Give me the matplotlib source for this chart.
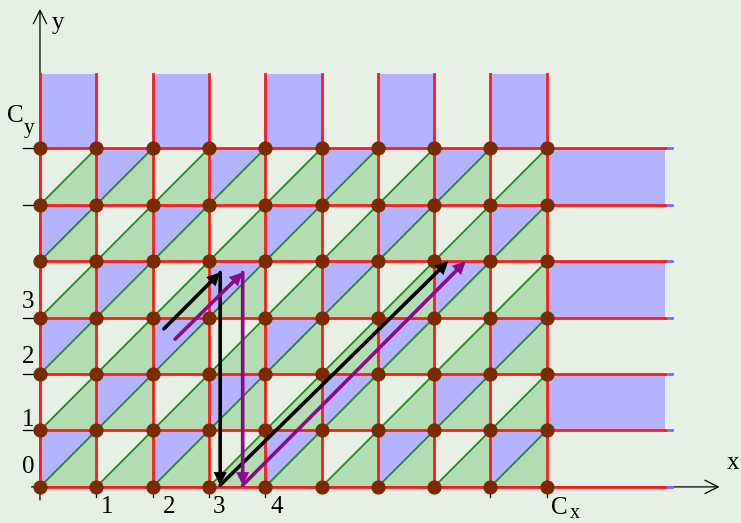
import matplotlib
matplotlib.use("Agg")
import matplotlib.pyplot as plt
from matplotlib.patches import Polygon, Rectangle, FancyArrowPatch

plt.rcParams['font.family'] = ['Liberation Serif', 'DejaVu Serif']

# -----------------------------
# data
# -----------------------------
nx = 9          # C_x
ny = 6          # C_y
top_height = 7.31
right_end = 11.1
top_blue_cols = [0, 2, 4, 6, 8]      # blue column starts above C_y
right_blue_rows = [5, 3, 1]          # blue row starts right of C_x

x_tick_pos = [1, 2, 3, 4, 8, 9]
x_label_pos = [1.19, 2.3, 3.18, 4.2]
x_label_text = ['1', '2', '3', '4']
y_tick_pos = [1, 2, 3, 5, 6]
y_label_pos = [0.35, 1.19, 2.3, 3.27]
y_label_text = ['0', '1', '2', '3']

black_path_x = [2.2, 3.2, 3.2, 7.25]
black_path_y = [2.8, 3.8, 0.03, 4.0]
purple_path_x = [2.4, 3.6, 3.6, 7.56]
purple_path_y = [2.62, 3.8, 0.03, 4.0]

bg = '#e6f0e4'
blue = '#b3b3ff'
green_fill = '#b3dcb3'
green_line = '#1e8c1e'
red = '#ff1a1a'
brown = '#7a2c00'
purple = '#8b0a8b'

fig = plt.figure(figsize=(7.41, 5.23), dpi=100)
fig.patch.set_facecolor(bg)
ax = fig.add_axes([0, 0, 1, 1])
ax.set_facecolor(bg)
ax.set_xlim(-0.71, 12.45)
ax.set_ylim(-0.64, 8.63)
ax.axis('off')

# -----------------------------
# filled cells
# -----------------------------
for i in range(nx):
    for j in range(ny):
        ax.add_patch(Polygon([(i, j), (i + 1, j), (i + 1, j + 1)], closed=True,
                             facecolor=green_fill, edgecolor='none', zorder=1))
        if (i + j) % 2 == 0:
            ax.add_patch(Polygon([(i, j), (i, j + 1), (i + 1, j + 1)], closed=True,
                                 facecolor=blue, edgecolor='none', zorder=1))
        ax.plot([i, i + 1], [j, j + 1], color=green_line, lw=1.3, zorder=2)

for c in top_blue_cols:
    ax.add_patch(Rectangle((c, ny), 1, top_height - ny, facecolor=blue,
                           edgecolor='none', zorder=1))
for r in right_blue_rows:
    ax.add_patch(Rectangle((nx, r), right_end - nx, 1, facecolor=blue,
                           edgecolor='none', zorder=1))

# -----------------------------
# axes with arrows
# -----------------------------
ax.add_patch(FancyArrowPatch((-0.2, 0), (12.12, 0), arrowstyle='->', mutation_scale=24,
                             color='black', lw=0.9, zorder=2))
ax.add_patch(FancyArrowPatch((0, -0.28), (0, 8.52), arrowstyle='->', mutation_scale=24,
                             color='black', lw=0.9, zorder=2))

# red grid
for j in range(ny + 1):
    ax.plot([right_end, right_end + 0.12], [j, j], color='#6f6fff', lw=2, zorder=2)
    ax.plot([0, right_end], [j, j], color=red, lw=2, zorder=3)
for i in range(nx + 1):
    ax.plot([i, i], [0, top_height], color=red, lw=2, zorder=3)

# ticks
for p in x_tick_pos:
    ax.plot([p, p], [0, -0.18], color='black', lw=0.9, zorder=2)
for p in y_tick_pos:
    ax.plot([-0.3, 0], [p, p], color='black', lw=0.9, zorder=2)

# labels
fs = 18
for p, lab in zip(x_label_pos, x_label_text):
    ax.text(p, -0.36, lab, fontsize=fs, ha='center', va='center')
for p, lab in zip(y_label_pos, y_label_text):
    ax.text(-0.21, p, lab, fontsize=fs, ha='center', va='center')
ax.text(-0.44, 6.58, 'C', fontsize=fs, ha='center', va='center')
ax.text(-0.2, 6.36, 'y', fontsize=fs * 0.85, ha='center', va='center')
ax.text(9.23, -0.37, 'C', fontsize=fs, ha='center', va='center')
ax.text(9.5, -0.48, 'x', fontsize=fs * 0.8, ha='center', va='center')
ax.text(0.32, 8.23, 'y', fontsize=fs, ha='center', va='center')
ax.text(12.3, 0.42, 'x', fontsize=fs, ha='center', va='center')

# -----------------------------
# path arrows
# -----------------------------
def draw_path(xs, ys, color):
    for k in range(len(xs) - 1):
        ax.add_patch(FancyArrowPatch((xs[k], ys[k]), (xs[k + 1], ys[k + 1]),
                                     arrowstyle='-|>', mutation_scale=13,
                                     color=color, lw=2.6, shrinkA=0, shrinkB=0,
                                     joinstyle='miter', zorder=6))

draw_path(black_path_x, black_path_y, 'black')
draw_path(purple_path_x, purple_path_y, purple)

# grid points
gx = [i for i in range(nx + 1) for j in range(ny + 1)]
gy = [j for i in range(nx + 1) for j in range(ny + 1)]
ax.scatter(gx, gy, s=105, color=brown, zorder=5, linewidths=0)

fig.savefig('out.png', dpi=100, facecolor=bg)
